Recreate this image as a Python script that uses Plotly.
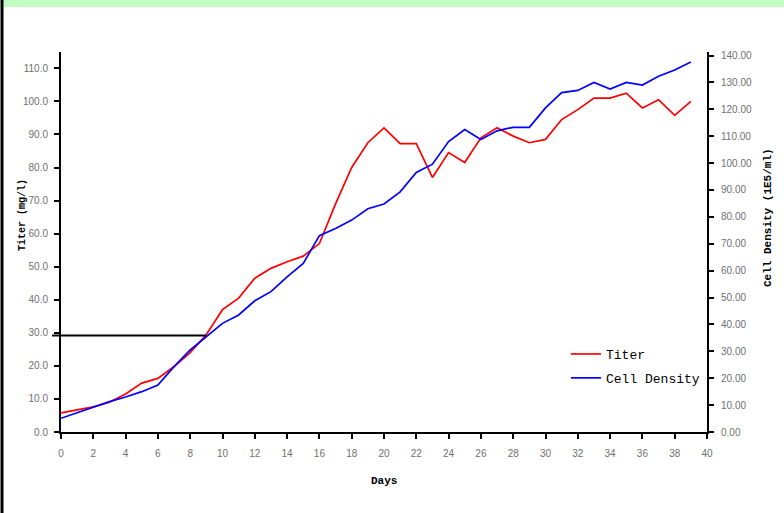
import plotly.graph_objects as go

# ---- data ----
days = list(range(40))
titer = [5.8, 6.6, 7.6, 9.0, 11.5, 14.8, 16.2, 19.8, 24.0, 29.5,
         37.0, 40.5, 46.5, 49.5, 51.5, 53.2, 57.0, 69.0, 80.0, 87.5,
         92.0, 87.2, 87.2, 77.0, 84.5, 81.5, 89.0, 92.0, 89.5, 87.5,
         88.5, 94.5, 97.5, 101.0, 101.0, 102.5, 98.0, 100.5, 95.8, 100.0]
density = [5.1, 7.2, 9.4, 11.3, 13.0, 15.0, 17.5, 24.3, 30.5, 35.5,
           40.4, 43.5, 48.8, 52.2, 57.7, 62.7, 73.0, 75.7, 78.8, 83.0,
           84.8, 89.3, 96.5, 99.6, 108.0, 112.5, 108.8, 112.0, 113.3, 113.3,
           120.5, 126.2, 127.0, 130.0, 127.5, 130.0, 129.0, 132.3, 134.6, 137.6]
x_ticks = list(range(0, 41, 2))
left_ticks = list(range(0, 111, 10))
right_ticks = list(range(0, 141, 10))
ref_level = 29.2   # horizontal reference line on titer axis
ref_day = 9

W, H = 784, 513
ML, MR, MT, MB = 61, 77, 52, 81
PW, PH = W - ML - MR, H - MT - MB
XR = [0, 40]
YL = [0, 114.94]
YR = [0, 141.3]

tickfont = dict(family="Liberation Sans, Arial", size=10, color="#707070")
titlefont = dict(family="Liberation Mono, Courier New", size=10, color="black")

fig = go.Figure()
fig.add_trace(go.Scatter(x=days, y=titer, name="Titer", mode="lines",
                         line=dict(color="#ff0000", width=1.7),
                         legendgroup="a", yaxis="y"))
fig.add_trace(go.Scatter(x=days, y=density, name="Cell Density", mode="lines",
                         line=dict(color="#0000ff", width=1.7),
                         legendgroup="b", yaxis="y2"))

axcommon = dict(showgrid=False, zeroline=False, showline=True,
                linecolor="black", linewidth=2, tickcolor="black",
                tickwidth=2, ticklen=5)

fig.update_layout(
    width=W, height=H, autosize=False,
    margin=dict(l=ML, r=MR, t=MT, b=MB),
    paper_bgcolor="white", plot_bgcolor="white",
    xaxis=dict(range=XR, tickvals=x_ticks, ticks="outside",
               tickfont=tickfont, ticklabelstandoff=6, **axcommon),
    xaxis2=dict(range=XR, tickvals=x_ticks, ticks="inside",
                overlaying="x", anchor="y", side="bottom",
                showticklabels=False, **axcommon),
    yaxis=dict(range=YL, tickvals=left_ticks, tickformat=".1f",
               ticks="outside", tickfont=tickfont, ticklabelstandoff=4,
               **axcommon),
    yaxis2=dict(range=YR, tickvals=right_ticks, tickformat=".2f",
                ticks="outside", overlaying="y", side="right", anchor="x",
                tickfont=tickfont, ticklabelstandoff=5, **axcommon),
    yaxis3=dict(range=YL, tickvals=left_ticks, ticks="inside",
                overlaying="y", side="left", anchor="x",
                showticklabels=False, **axcommon),
    yaxis4=dict(range=YR, tickvals=right_ticks, ticks="inside",
                overlaying="y", side="right", anchor="x",
                showticklabels=False, **axcommon),
    legend=dict(x=(566 - ML) / PW, y=(MT + PH - 339) / PH,
                xanchor="left", yanchor="top",
                font=dict(family="Liberation Mono, Courier New", size=13,
                          color="black"),
                bgcolor="rgba(0,0,0,0)", tracegroupgap=4),
    showlegend=True,
)

# axis titles
fig.add_annotation(text="<b>Days</b>", xref="paper", yref="paper",
                   x=0.5, y=-(481 - MT - PH) / PH, showarrow=False,
                   xanchor="center", yanchor="middle",
                   font=dict(family="Liberation Mono, Courier New", size=11,
                             color="black"))
fig.add_annotation(text="<b>Titer (mg/l)</b>", xref="paper", yref="paper",
                   x=(22 - ML) / PW, y=(MT + PH - 215) / PH, textangle=-90,
                   xanchor="center", yanchor="middle",
                   showarrow=False, font=titlefont)
fig.add_annotation(text="<b>Cell Density (1E5/ml)</b>", xref="paper",
                   yref="paper", x=(768 - ML) / PW, y=(MT + PH - 218) / PH,
                   textangle=-90, xanchor="center", yanchor="middle",
                   showarrow=False,
                   font=dict(family="Liberation Mono, Courier New", size=11,
                             color="black"))

# reference line at the titer level
fig.add_shape(type="line", xref="paper", yref="y",
              x0=-9 / PW, x1=(ref_day - XR[0]) / (XR[1] - XR[0]),
              y0=ref_level, y1=ref_level,
              line=dict(color="black", width=2))

# decorative frame: green top bar and left border
fig.add_shape(type="rect", xref="paper", yref="paper",
              x0=-ML / PW, x1=1 + MR / PW,
              y0=1 + (MT - 7) / PH, y1=1 + MT / PH,
              fillcolor="#c4fcc4", line=dict(width=0), layer="below")
fig.add_shape(type="line", xref="paper", yref="paper",
              x0=(2 - ML) / PW, x1=(2 - ML) / PW,
              y0=-MB / PH, y1=1 + MT / PH,
              line=dict(color="black", width=3))

fig.write_html("out.html",
               config={"displayModeBar": False},
               post_script="document.body.style.margin='0';"
                           "document.body.style.overflow='hidden';")
